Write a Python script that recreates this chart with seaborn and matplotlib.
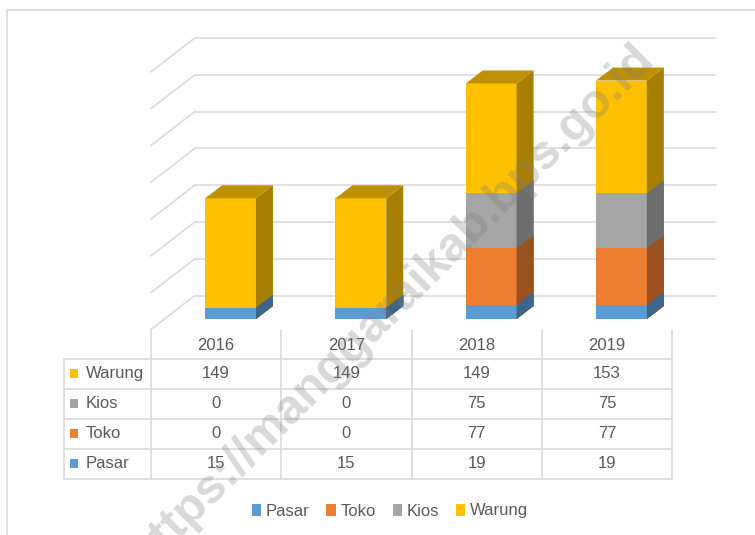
import numpy as np
import pandas as pd
import matplotlib
matplotlib.use("Agg")
import matplotlib.pyplot as plt
from matplotlib.patches import Polygon, Rectangle, Patch
from matplotlib.lines import Line2D
from matplotlib.transforms import IdentityTransform
import seaborn as sns

# ---- data ----
years = ["2016", "2017", "2018", "2019"]
series_names = ["Pasar", "Toko", "Kios", "Warung"]
pasar = [15, 15, 19, 19]
toko = [0, 0, 77, 77]
kios = [0, 0, 75, 75]
warung = [149, 149, 149, 153]
grid_values = [0, 50, 100, 150, 200, 250, 300, 350]

front_colors = ["#5B9BD5", "#ED7D31", "#A5A5A5", "#FFC000"]
side_colors = ["#3C668C", "#9C5220", "#6D6D6D", "#A87E00"]
top_colors = ["#44739F", "#B25E25", "#7C7C7C", "#BF9000"]

sns.set_style("white")
plt.rcParams["font.family"] = ["Liberation Sans", "DejaVu Sans"]
TXT = "#595959"
GRID = "#d9d9d9"

W, H = 755, 535
fig = plt.figure(figsize=(W / 100, H / 100), dpi=100)
ax = fig.add_axes([165.4 / W, (H - 319) / H, 521.2 / W, 257.6 / H])
ax.patch.set_visible(False)

df = pd.DataFrame({"year": years, "Pasar": pasar, "Toko": toko, "Kios": kios, "Warung": warung})
cum = df[series_names].cumsum(axis=1)

# draw cumulative layers, tallest first
layer_patches = {}
for k in range(len(series_names) - 1, -1, -1):
    name = series_names[k]
    before = len(ax.patches)
    sns.barplot(x=df["year"], y=cum[name], color=front_colors[k], saturation=1,
                width=0.39, ax=ax, edgecolor="none", linewidth=0, order=years)
    layer_patches[k] = ax.patches[before:]
    for p in layer_patches[k]:
        p.set_zorder(10 + (3 - k) * 2)

ax.set_xlim(-0.5, 3.5)
ax.set_ylim(0, 350)
ax.set_xlabel("")
ax.set_ylabel("")
ax.set_xticks([])
ax.set_yticks([])
for s in ax.spines.values():
    s.set_visible(False)

T = ax.transData
ID = IdentityTransform()
DX, DY = 17, 13           # bar depth (pixels)
BACK = (29.5, 23.5)       # back wall offset
FRONT = (-14.5, -10.5)    # floor front offset

# back wall gridlines and side wall diagonals
for v in grid_values:
    p = T.transform((-0.5, v))
    q = T.transform((3.5, v))
    ax.add_line(Line2D([p[0] + BACK[0], q[0] + BACK[0]], [p[1] + BACK[1], q[1] + BACK[1]],
                       transform=ID, color=GRID, lw=1.1, zorder=1, clip_on=False))
    ax.add_line(Line2D([p[0] + FRONT[0], p[0] + BACK[0]], [p[1] + FRONT[1], p[1] + BACK[1]],
                       transform=ID, color=GRID, lw=1.1, zorder=1, clip_on=False))

# 3D side and top faces
for k in range(len(series_names) - 1, -1, -1):
    for p in layer_patches[k]:
        x0, y0 = T.transform((p.get_x(), p.get_y()))
        x1, y1 = T.transform((p.get_x() + p.get_width(), p.get_y() + p.get_height()))
        if y1 - y0 < 0.5:
            continue
        side = Polygon([(x1, y0), (x1 + DX, y0 + DY), (x1 + DX, y1 + DY), (x1, y1)],
                       closed=True, transform=ID, facecolor=side_colors[k], edgecolor="none",
                       zorder=10 + (3 - k) * 2 + 1, clip_on=False)
        ax.add_patch(side)
        if k == len(series_names) - 1:
            top = Polygon([(x0, y1), (x1, y1), (x1 + DX, y1 + DY), (x0 + DX, y1 + DY)],
                          closed=True, transform=ID, facecolor=top_colors[k], edgecolor="none",
                          zorder=10 + (3 - k) * 2 + 1, clip_on=False)
            ax.add_patch(top)

# ---- data table ----
floor_y = T.transform((0, 0))[1] + FRONT[1]   # display y of table top
col_x = [T.transform((i - 0.5, 0))[0] + FRONT[0] for i in range(len(years) + 1)]
left_x = 64
header_h = 29
row_h = 30
rows = [("Warung", warung, 3), ("Kios", kios, 2), ("Toko", toko, 1), ("Pasar", pasar, 0)]
n = len(rows)
y_lines = [floor_y - header_h - i * row_h for i in range(n + 1)]
FS = 12

def fline(xs, ys):
    fig.add_artist(Line2D(xs, ys, transform=ID, color=GRID, lw=1.2, zorder=2))

for yl in y_lines:
    fline([left_x, col_x[-1]], [yl, yl])
fline([left_x, left_x], [y_lines[0], y_lines[-1]])
for cx in col_x:
    fline([cx, cx], [floor_y, y_lines[-1]])

for i, yr in enumerate(years):
    xc = (col_x[i] + col_x[i + 1]) / 2
    fig.text(xc, floor_y - header_h / 2 - 1, yr, transform=ID, ha="center", va="center",
             fontsize=FS, color=TXT)

for r, (lab, vals, ci) in enumerate(rows):
    yc = y_lines[0] - row_h * (r + 0.5)
    fig.add_artist(Rectangle((70, yc - 4.5), 8, 9, transform=ID, facecolor=front_colors[ci],
                             edgecolor="none", zorder=3))
    fig.text(86, yc, lab, transform=ID, ha="left", va="center", fontsize=FS, color=TXT)
    for i, v in enumerate(vals):
        xc = (col_x[i] + col_x[i + 1]) / 2
        fig.text(xc, yc, str(v), transform=ID, ha="center", va="center", fontsize=FS, color=TXT)

# ---- legend ----
handles = [Patch(facecolor=c, edgecolor="none") for c in front_colors]
fig.legend(handles, series_names, loc="center", bbox_to_anchor=(390 / W, 1 - 511 / H),
           ncol=4, frameon=False, fontsize=FS, handlelength=0.55, handleheight=0.7,
           handletextpad=0.3, columnspacing=1.0, labelcolor=TXT)

# ---- outer chart border ----
fig.add_artist(Rectangle((7 / W, -0.1), 1.2, 1 - 10 / H + 0.1, transform=fig.transFigure,
                         fill=False, edgecolor=GRID, lw=1.2, zorder=0))

# ---- watermark ----
fig.text(392 / W, 1 - 306 / H, "https://manggaraikab.bps.go.id", rotation=45,
         rotation_mode="anchor", ha="center", va="center", fontsize=35, fontweight="bold",
         family="Liberation Sans", color="#808080", alpha=0.3, zorder=50)

fig.savefig("out.png", dpi=100)
